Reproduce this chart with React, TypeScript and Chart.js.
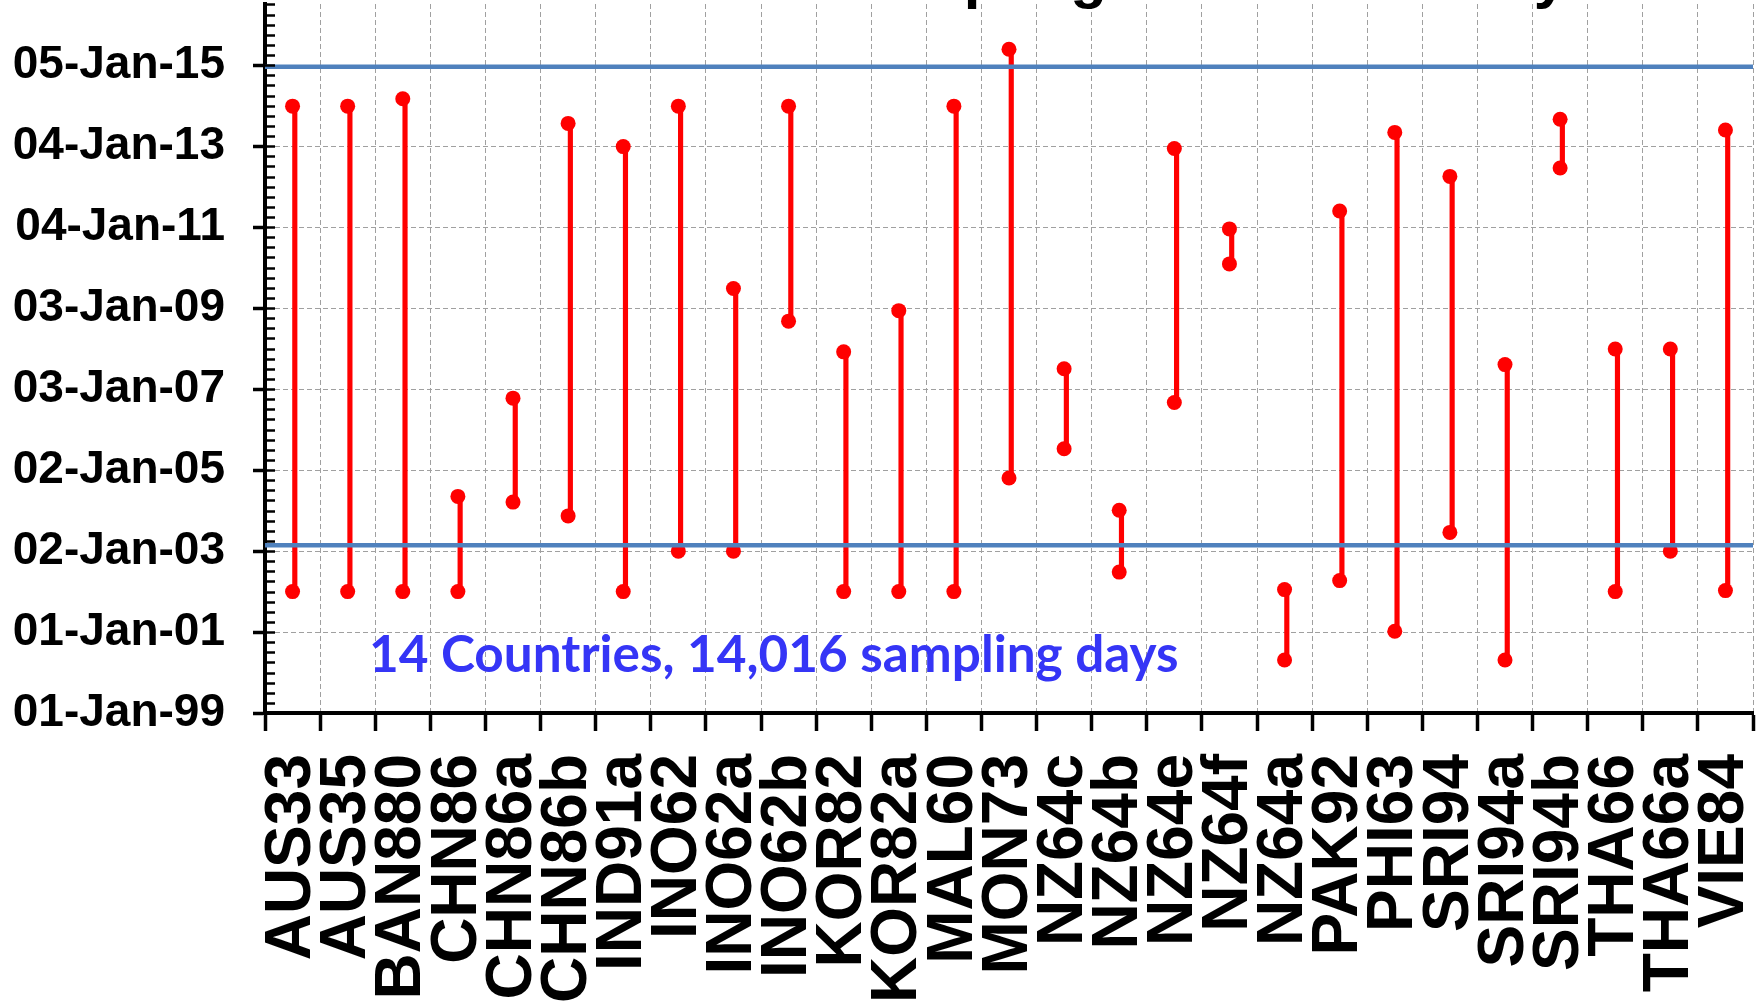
import { useEffect, useRef } from 'react';
import { Chart, registerables } from 'chart.js';

Chart.register(...registerables);

// ---------------- data ----------------
const sites = [
  'AUS33', 'AUS35', 'BAN880', 'CHN86', 'CHN86a', 'CHN86b', 'IND91a', 'INO62', 'INO62a',
  'INO62b', 'KOR82', 'KOR82a', 'MAL60', 'MON73', 'NZ64c', 'NZ64b', 'NZ64e', 'NZ64f',
  'NZ64a', 'PAK92', 'PHI63', 'SRI94', 'SRI94a', 'SRI94b', 'THA66', 'THA66a', 'VIE84',
];

const startDates = [
  '2002-01-01', '2002-01-01', '2002-01-01', '2002-01-01', '2004-03-19', '2003-11-15', '2002-01-01', '2003-01-01', '2003-01-01',
  '2008-09-07', '2002-01-01', '2002-01-01', '2002-01-01', '2004-10-22', '2005-07-13', '2002-06-26', '2006-09-04', '2010-02-06',
  '2000-04-23', '2002-04-10', '2001-01-08', '2003-06-19', '2000-04-23', '2012-06-21', '2002-01-01', '2003-01-01', '2002-01-10',
];

const endDates = [
  '2013-12-31', '2013-12-31', '2014-03-08', '2004-05-09', '2006-10-13', '2013-07-28', '2012-12-31', '2013-12-31', '2009-06-29',
  '2013-12-31', '2007-12-05', '2008-12-11', '2013-12-31', '2015-05-28', '2007-07-05', '2004-01-05', '2012-12-13', '2010-12-19',
  '2002-01-19', '2011-05-30', '2013-05-08', '2012-04-06', '2007-08-12', '2013-09-04', '2007-12-31', '2007-12-31', '2013-05-29',
];

const referenceDates = ['2003-02-24', '2014-12-21'];

const yTickDates = [
  '1999-01-01', '2001-01-01', '2003-01-02', '2005-01-02', '2007-01-03',
  '2009-01-03', '2011-01-04', '2013-01-04', '2015-01-05',
];
const yMinDate = '1999-01-01';
const yMaxDate = '2016-07-10';
const minorTicksPerMajor = 8;

const annotationText = '14 Countries, 14,016 sampling days';
const titleText = 'Time Frame of Sampling Dates for Study Sites';

// ---------------- helpers ----------------
const DAY = 86400000;
const ORIGIN = Date.UTC(1999, 0, 1);
const MONTHS = ['Jan', 'Feb', 'Mar', 'Apr', 'May', 'Jun', 'Jul', 'Aug', 'Sep', 'Oct', 'Nov', 'Dec'];

function toDays(s: string): number {
  const [y, m, d] = s.split('-').map(Number);
  return (Date.UTC(y, m - 1, d) - ORIGIN) / DAY;
}
function fmtDay(v: number): string {
  const dt = new Date(ORIGIN + Math.round(v) * DAY);
  const dd = String(dt.getUTCDate()).padStart(2, '0');
  const yy = String(dt.getUTCFullYear() % 100).padStart(2, '0');
  return `${dd}-${MONTHS[dt.getUTCMonth()]}-${yy}`;
}

const starts = startDates.map(toDays);
const ends = endDates.map(toDays);
const refs = referenceDates.map(toDays);
const yTicks = yTickDates.map(toDays);
const yMin = toDays(yMinDate);
const yMax = toDays(yMaxDate);
const majorStep = yTicks[1] - yTicks[0];
const minorStep = majorStep / minorTicksPerMajor;

const FONT = "'Liberation Sans', Arial, Helvetica, sans-serif";
const GRID = '#A0A0A0';

const decorations = {
  id: 'decorations',
  afterDraw(chart: any) {
    const { ctx, chartArea, scales } = chart;
    const y = scales.y;
    ctx.save();
    // minor ticks on the inside of the y axis
    ctx.strokeStyle = '#000';
    ctx.lineWidth = 2.5;
    for (let v = yMin; v <= yMax + 0.01; v += minorStep) {
      const py = Math.round(y.getPixelForValue(v)) + 0.5;
      ctx.beginPath();
      ctx.moveTo(chartArea.left, py);
      ctx.lineTo(chartArea.left + 10, py);
      ctx.stroke();
    }
    // annotation text
    ctx.font = `bold 48px Lato, 'Open Sans', sans-serif`;
    const w = ctx.measureText(annotationText).width;
    const size = (48 * 809) / w;
    ctx.font = `bold ${size.toFixed(1)}px Lato, 'Open Sans', sans-serif`;
    ctx.fillStyle = '#3535F6';
    ctx.textAlign = 'left';
    ctx.textBaseline = 'alphabetic';
    ctx.fillText(annotationText, chartArea.left + 104, chartArea.bottom - 41);
    // title (cut off at top of the picture)
    ctx.font = `bold 60px ${FONT}`;
    ctx.fillStyle = '#000';
    const pIdx = titleText.indexOf('pling');
    const pre = ctx.measureText(titleText.slice(0, pIdx)).width;
    const pw = ctx.measureText('p').width;
    ctx.fillText(titleText, 982 - pre - pw / 2, -3);
    ctx.restore();
  },
};

export default function App() {
  const ref = useRef<HTMLCanvasElement>(null);

  useEffect(() => {
    const canvas = ref.current!;
    const chart = new Chart(canvas, {
      type: 'bar',
      data: {
        labels: sites,
        datasets: [
          {
            type: 'line',
            label: 'Reference start',
            xAxisID: 'x2',
            data: [{ x: 0, y: refs[0] }, { x: 1, y: refs[0] }],
            borderColor: '#4F81BD',
            borderWidth: 4.5,
            pointRadius: 0,
            order: 0,
          } as any,
          {
            type: 'line',
            label: 'Reference end',
            xAxisID: 'x2',
            data: [{ x: 0, y: refs[1] }, { x: 1, y: refs[1] }],
            borderColor: '#4F81BD',
            borderWidth: 4.5,
            pointRadius: 0,
            order: 0,
          } as any,
          {
            type: 'line',
            label: 'End',
            data: ends,
            showLine: false,
            pointRadius: 7.5,
            pointBackgroundColor: '#FF0000',
            pointBorderWidth: 0,
            borderColor: '#FF0000',
            order: 1,
          } as any,
          {
            type: 'line',
            label: 'Start',
            data: starts,
            showLine: false,
            pointRadius: 7.5,
            pointBackgroundColor: '#FF0000',
            pointBorderWidth: 0,
            borderColor: '#FF0000',
            order: 1,
          } as any,
          {
            type: 'bar',
            label: 'Span',
            data: starts.map((s, i) => [s, ends[i]]),
            backgroundColor: '#FF0000',
            borderWidth: 0,
            barThickness: 4.5,
            order: 2,
          } as any,
        ],
      },
      options: {
        animation: false,
        responsive: false,
        devicePixelRatio: 1,
        layout: { padding: { left: 0, top: 4, right: 10, bottom: 0 }, autoPadding: false } as any,
        plugins: {
          legend: { display: false },
          tooltip: { enabled: false },
          title: { display: false },
        },
        scales: {
          x: {
            type: 'category',
            offset: true,
            grid: {
              display: true,
              offset: true,
              color: GRID,
              lineWidth: 1,
              drawTicks: true,
              tickLength: 18,
              tickColor: '#000',
              tickWidth: 3.5,
            },
            border: { display: true, color: '#000', width: 4, dash: [5, 3] },
            ticks: {
              autoSkip: false,
              maxRotation: 90,
              minRotation: 90,
              padding: 23,
              color: '#000',
              font: { family: FONT, size: 64, weight: 'bold' },
            },
            afterFit: (s: any) => {
              s.height = 290;
              s.paddingLeft = 0;
              s.paddingRight = 0;
            },
          } as any,
          x2: { type: 'linear', min: 0, max: 1, offset: false, display: false, bounds: 'data' } as any,
          y: {
            type: 'linear',
            min: yMin,
            max: yMax,
            grid: {
              color: GRID,
              lineWidth: 1,
              tickLength: 12,
              tickColor: '#000',
              tickWidth: 3.5,
            },
            border: { display: true, color: '#000', width: 4, dash: [5, 3] },
            ticks: {
              padding: 28,
              color: '#000',
              font: { family: FONT, size: 46, weight: 'bold' },
              callback: (v: any) => fmtDay(Number(v)),
            },
            afterBuildTicks: (s: any) => {
              s.ticks = yTicks.map((v) => ({ value: v }));
            },
            afterFit: (s: any) => {
              s.width = 265;
              s.paddingTop = 0;
              s.paddingBottom = 0;
            },
          } as any,
        },
      },
      plugins: [decorations],
    });
    return () => chart.destroy();
  }, []);

  return (
    <div style={{ position: 'absolute', left: 0, top: 0, width: 1763, height: 1003, background: '#fff' }}>
      <canvas ref={ref} width={1763} height={1003} style={{ display: 'block', width: 1763, height: 1003 }} />
    </div>
  );
}
